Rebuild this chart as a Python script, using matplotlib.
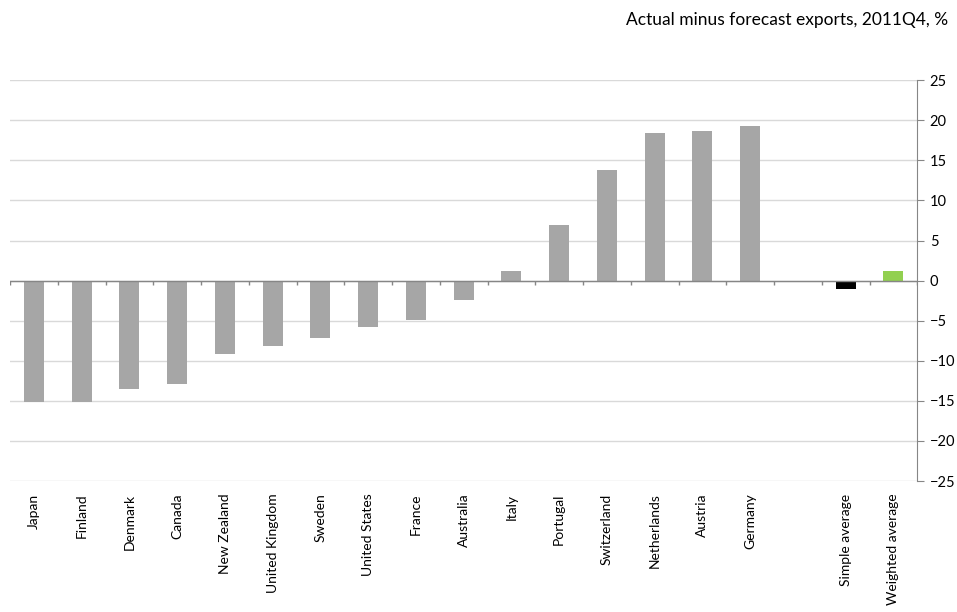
import matplotlib.pyplot as plt
import numpy as np

plt.rcParams['font.family'] = ['Lato', 'DejaVu Sans']

countries = ['Japan', 'Finland', 'Denmark', 'Canada', 'New Zealand', 'United Kingdom',
             'Sweden', 'United States', 'France', 'Australia', 'Italy', 'Portugal',
             'Switzerland', 'Netherlands', 'Austria', 'Germany']
country_vals = [-15.2, -15.1, -13.5, -12.9, -9.2, -8.2, -7.2, -5.8, -4.9, -2.4,
                1.2, 6.9, 13.8, 18.4, 18.7, 19.3]
avg_labels = ['Simple average', 'Weighted average']
avg_vals = [-1.1, 1.2]
avg_colors = ['#000000', '#92d050']

labels = countries + [''] + avg_labels
n = len(labels)
x = np.arange(n)

fig = plt.figure(figsize=(9.57, 6.12), dpi=100)
ax = fig.add_axes([0.0105, 0.214, 0.948, 0.655])

ax.bar(x[:len(countries)], country_vals, width=0.42, color='#a6a6a6', zorder=3)
ax.bar(x[len(countries) + 1:], avg_vals, width=0.42, color=avg_colors, zorder=3)

ax.set_xlim(-0.5, n - 0.5)
ax.set_ylim(-25, 25)
ax.set_yticks(np.arange(-25, 26, 5))
ax.yaxis.tick_right()
ax.yaxis.grid(True, color='#d9d9d9', linewidth=1)
ax.set_axisbelow(True)

# zero line with small category separators
ax.axhline(0, color='#868686', linewidth=1, zorder=4)
ax.vlines(np.arange(-0.5, n, 1.0), -0.6, 0, color='#868686', linewidth=1, zorder=4)

ax.set_xticks(x)
ax.set_xticklabels(labels, rotation=90, fontsize=10)
ax.tick_params(axis='x', length=0, pad=9)
ax.tick_params(axis='y', length=5, color='#868686', labelsize=10.5, pad=4)

for s in ['top', 'left', 'bottom']:
    ax.spines[s].set_visible(False)
ax.spines['right'].set_color('#868686')

fig.text(0.991, 0.967, 'Actual minus forecast exports, 2011Q4, %', ha='right',
         va='center', fontsize=12.5)

plt.savefig('out.png', dpi=100)
